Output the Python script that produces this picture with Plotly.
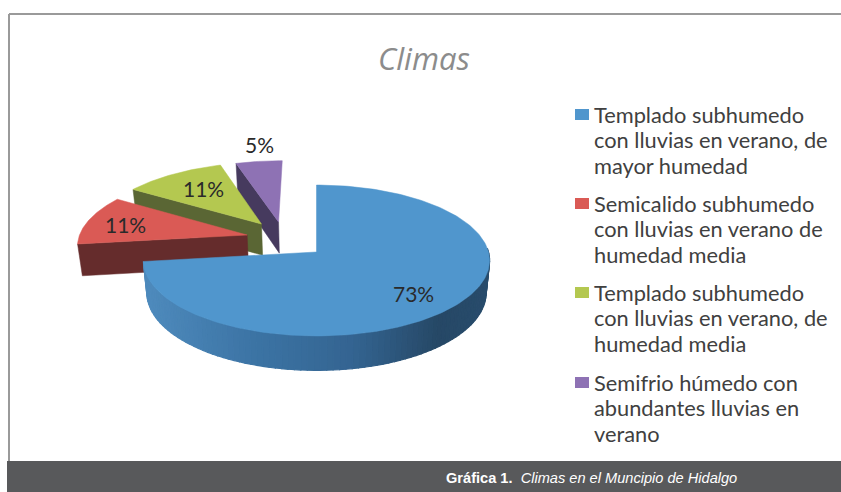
import math
import plotly.graph_objects as go

categories = ["Templado subhumedo<br>con lluvias en verano, de<br>mayor humedad",
              "Semicalido subhumedo<br>con lluvias en verano de<br>humedad media",
              "Templado subhumedo<br>con lluvias en verano, de<br>humedad media",
              "Semifrio húmedo con<br>abundantes lluvias en<br>verano"]
values = [73, 11, 11, 5]
top_colors = ["#5096CD", "#DA5A55", "#B4C850", "#8E72B4"]
wall_colors = ["#3A6F9E", "#652C2C", "#5A6634", "#463A5E"]
explode_u = [0.0, -0.414, -0.334, -0.231]
explode_v = [0.0, 0.234, 0.392, 0.422]
label_xy = [(413, 293), (125, 224), (203, 188), (259, 144)]
legend_y = [114, 203, 292, 382]

CX, CY, B, A, K, D, S = 316.5, 252, 172, 74.5, 0.1126, 32, 0.98
LEGEND_FONT = "Lato"


def proj(u, v, bottom=False):
    w = 1 + K * v
    x, y = B * u / w, -A * v / w
    if bottom:
        return CX + S * x, CY + S * y + D / w
    return CX + x, CY + y


def path(pts):
    xs, ys = zip(*pts)
    return list(xs) + [xs[0]], list(ys) + [ys[0]]


fig = go.Figure()


def poly(pts, color, lw=0.5):
    x, y = path(pts)
    fig.add_trace(go.Scatter(x=x, y=y, mode="lines", fill="toself", fillcolor=color,
                             line=dict(color=color, width=lw), hoverinfo="skip",
                             showlegend=False))


def mix(a, b, t):
    return "#%02x%02x%02x" % tuple(round(a[i] + (b[i] - a[i]) * t) for i in range(3))


total = sum(values)
spans, start = [], 0.0
for val in values:
    spans.append((start, start + val / total * 2 * math.pi))
    start += val / total * 2 * math.pi


def rim(i, t):
    return explode_u[i] + math.sin(t), explode_v[i] + math.cos(t)


def arc(i, n=80):
    a0, a1 = spans[i]
    return [rim(i, a0 + (a1 - a0) * j / n) for j in range(n + 1)]


# back slices first, then the main slice on top
for i in [3, 2, 1]:
    a0, a1 = spans[i]
    au, av = explode_u[i], explode_v[i]
    ru, rv = rim(i, a0)
    poly([proj(au, av), proj(ru, rv), proj(ru, rv, True), proj(au, av, True)], wall_colors[i])
    poly([proj(au, av)] + [proj(*p) for p in arc(i)], top_colors[i])

# main slice wall with horizontal shading
stops = [(0.0, (78, 138, 188)), (0.3, (60, 116, 165)), (0.6, (52, 100, 145)), (0.85, (38, 72, 102)), (1.0, (40, 76, 108))]
a0, a1 = spans[0]
wall_start, wall_end = math.pi / 2 - 0.05, a1
N = 90
for j in range(N):
    t0 = wall_start + (wall_end - wall_start) * j / N
    t1 = wall_start + (wall_end - wall_start) * (j + 1) / N
    p = [rim(0, t0 + (t1 - t0) * q / 3) for q in range(4)]
    xmid = proj(*rim(0, (t0 + t1) / 2))[0]
    f = min(1, max(0, (xmid - 147) / (490 - 147)))
    for (s0, c0), (s1, c1) in zip(stops, stops[1:]):
        if s0 <= f <= s1:
            col = mix(c0, c1, (f - s0) / (s1 - s0))
            break
    poly([proj(*q) for q in p] + [proj(*q, True) for q in reversed(p)], col, 1.2)
poly([proj(0, 0)] + [proj(*p) for p in arc(0, 200)], top_colors[0])

for (lx, ly), val in zip(label_xy, values):
    fig.add_annotation(x=lx, y=ly, text=f"{val}%", showarrow=False,
                       font=dict(family=LEGEND_FONT, size=21, color="#2a2a2a"))

# legend
for cat, ly, col in zip(categories, legend_y, top_colors):
    fig.add_shape(type="rect", x0=575, x1=589, y0=ly - 5, y1=ly + 6, fillcolor=col, line_width=0)
    for n, line in enumerate(cat.split("<br>")):
        fig.add_annotation(x=592, y=ly + n * 25.5, text=line, showarrow=False, xanchor="left",
                           font=dict(family=LEGEND_FONT, size=21.8, color="#404040"))

fig.add_annotation(x=424, y=58, text="<i>Climas</i>", showarrow=False,
                   font=dict(family="Open Sans", size=31, color="#8c8c8c"))

# frame and caption band
fig.add_shape(type="line", x0=9, x1=9, y0=14, y1=461, line=dict(color="#9a9a9a", width=2))
fig.add_shape(type="line", x0=9, x1=841, y0=14, y1=14, line=dict(color="#9a9a9a", width=2))
fig.add_shape(type="rect", x0=7, x1=841, y0=461, y1=492, fillcolor="#58595B", line_width=0)
fig.add_annotation(x=444, y=478, xanchor="left", showarrow=False,
                   text="<b>Gráfica 1.</b>  <i>Climas en el Muncipio de Hidalgo</i>",
                   font=dict(family="Liberation Sans", size=14.6, color="#FFFFFF"))

fig.update_layout(width=841, height=492, margin=dict(l=0, r=0, t=0, b=0),
                  paper_bgcolor="white", plot_bgcolor="white", showlegend=False,
                  xaxis=dict(range=[0, 841], visible=False, fixedrange=True),
                  yaxis=dict(range=[492, 0], visible=False, fixedrange=True))
fig.write_html("out.html", config={"displayModeBar": False},
               post_script="document.body.style.margin='0';document.body.style.overflow='hidden';")
